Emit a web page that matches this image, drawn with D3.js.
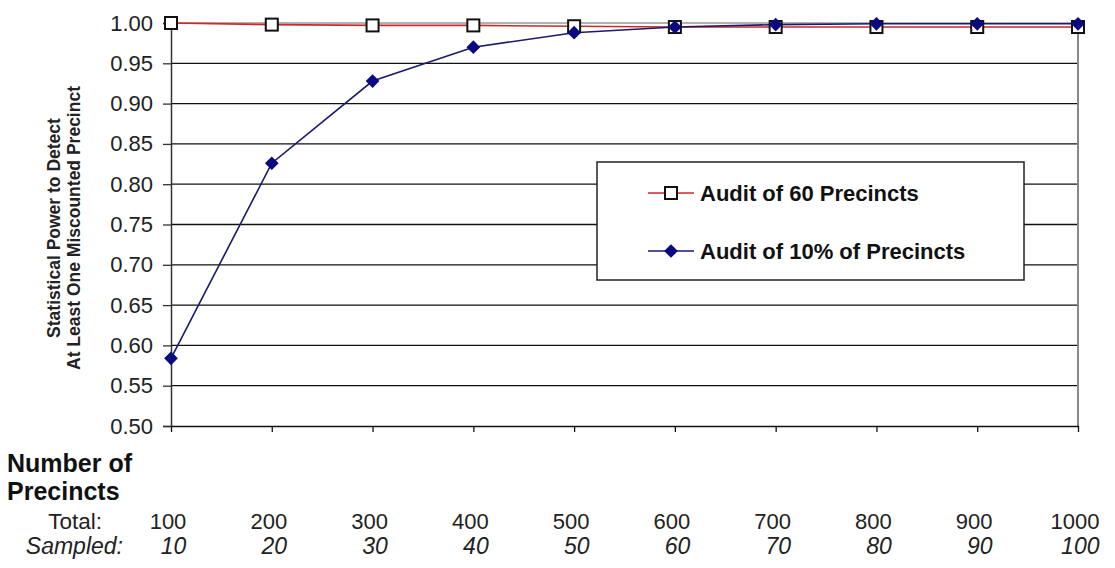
<!DOCTYPE html>
<html>
<head>
<meta charset="utf-8">
<script src="https://cdn.jsdelivr.net/npm/d3@7"></script>
<style>
  html, body { margin: 0; padding: 0; background: #fff; overflow: hidden; }
  svg { display: block; font-family: "Liberation Sans", Arial, sans-serif; }
</style>
</head>
<body>
<svg width="1115" height="568"></svg>
<script>
// values
const totals = [100, 200, 300, 400, 500, 600, 700, 800, 900, 1000];
const sampled = [10, 20, 30, 40, 50, 60, 70, 80, 90, 100];
const audit60 = [1.000, 0.998, 0.997, 0.997, 0.996, 0.995, 0.995, 0.995, 0.995, 0.995];
const audit10pct = [0.584, 0.826, 0.928, 0.970, 0.988, 0.995, 0.998, 0.999, 0.999, 0.999];
const yTicks = [0.50, 0.55, 0.60, 0.65, 0.70, 0.75, 0.80, 0.85, 0.90, 0.95, 1.00];
const seriesNames = ["Audit of 60 Precincts", "Audit of 10% of Precincts"];

const svg = d3.select('svg');
const margin = {top: 23, right: 37, bottom: 142, left: 171};
const width = +svg.attr('width');
const height = +svg.attr('height');
const innerWidth = width - margin.left - margin.right;
const innerHeight = height - margin.top - margin.bottom;

const xScale = d3.scaleLinear().domain([100, 1000]).range([0, innerWidth]);
const yScale = d3.scaleLinear().domain([0.5, 1.0]).range([innerHeight, 0]);

const g = svg.append('g').attr('transform', `translate(${margin.left},${margin.top})`);

// gridlines
g.selectAll('.grid')
  .data(yTicks.slice(1))
  .enter().append('line')
  .attr('x1', 0).attr('x2', innerWidth)
  .attr('y1', d => yScale(d)).attr('y2', d => yScale(d))
  .attr('stroke', d => d === 1 ? '#999' : '#111').attr('stroke-width', 1.3);

// right border of plot area
g.append('line')
  .attr('x1', innerWidth).attr('x2', innerWidth)
  .attr('y1', 0).attr('y2', innerHeight)
  .attr('stroke', '#888').attr('stroke-width', 2);

// y axis
const yAxis = d3.axisLeft(yScale).tickValues(yTicks).tickFormat(d3.format('.2f')).tickSize(8).tickPadding(10);
const yG = g.append('g').call(yAxis);
yG.attr('font-size', 22).attr('font-family', '"Liberation Sans", Arial, sans-serif');
yG.select('.domain').attr('stroke', '#333').attr('stroke-width', 1.5);
yG.selectAll('.tick line').attr('stroke', '#333').attr('stroke-width', 1.3);
yG.selectAll('text').attr('fill', '#222');

// x axis (ticks only, labels drawn below)
const xAxis = d3.axisBottom(xScale).tickValues(totals).tickFormat('').tickSize(6).tickSizeOuter(0);
const xG = g.append('g').attr('transform', `translate(0,${innerHeight})`).call(xAxis);
xG.select('.domain').attr('stroke', '#111').attr('stroke-width', 1.5);
xG.selectAll('.tick line').attr('stroke', '#111').attr('stroke-width', 1.3);

// lines
const line = d3.line().x((d, i) => xScale(totals[i])).y(d => yScale(d));
g.append('path').datum(audit60).attr('d', line)
  .attr('fill', 'none').attr('stroke', '#cc2a2a').attr('stroke-width', 1.6);
g.append('path').datum(audit10pct).attr('d', line)
  .attr('fill', 'none').attr('stroke', '#1a1a6e').attr('stroke-width', 1.6);

// markers
g.selectAll('.sq')
  .data(audit60).enter().append('rect')
  .attr('x', (d, i) => xScale(totals[i]) - 6)
  .attr('y', d => yScale(d) - 6)
  .attr('width', 12).attr('height', 12)
  .attr('fill', '#fff').attr('stroke', '#111').attr('stroke-width', 2);

const diamond = d3.symbol().type(d3.symbolDiamond2).size(120);
g.selectAll('.dia')
  .data(audit10pct).enter().append('path')
  .attr('d', diamond)
  .attr('transform', (d, i) => `translate(${xScale(totals[i])},${yScale(d)})`)
  .attr('fill', '#0a0a80');

// y axis title
const yTitle = svg.append('text')
  .attr('transform', 'translate(60,228) rotate(-90)')
  .attr('text-anchor', 'middle')
  .attr('font-size', 17.5).attr('font-weight', 'bold').attr('fill', '#222');
yTitle.append('tspan').attr('x', 0).attr('dy', 0).text('Statistical Power to Detect');
yTitle.append('tspan').attr('x', 0).attr('dy', 20).text('At Least One Miscounted Precinct');

// legend
const legend = svg.append('g').attr('transform', 'translate(597,162)');
legend.append('rect')
  .attr('width', 427).attr('height', 118)
  .attr('fill', '#fff').attr('stroke', '#222').attr('stroke-width', 1.5);
const legendRows = [
  {name: seriesNames[0], color: '#cc2a2a', y: 31},
  {name: seriesNames[1], color: '#1a1a6e', y: 89}
];
legendRows.forEach((row, i) => {
  legend.append('line').attr('x1', 51).attr('x2', 97).attr('y1', row.y).attr('y2', row.y)
    .attr('stroke', row.color).attr('stroke-width', 1.6);
  if (i === 0) {
    legend.append('rect').attr('x', 68).attr('y', row.y - 6).attr('width', 12).attr('height', 12)
      .attr('fill', '#fff').attr('stroke', '#111').attr('stroke-width', 2);
  } else {
    legend.append('path').attr('d', diamond).attr('transform', `translate(74,${row.y})`)
      .attr('fill', '#0a0a80');
  }
  legend.append('text').attr('x', 103).attr('y', row.y + 8)
    .attr('font-size', 22).attr('font-weight', 'bold').attr('fill', '#111')
    .text(row.name);
});

// bottom labels
svg.append('text').attr('x', 7).attr('y', 472)
  .attr('font-size', 25).attr('font-weight', 'bold').attr('fill', '#111').text('Number of');
svg.append('text').attr('x', 7).attr('y', 500)
  .attr('font-size', 25).attr('font-weight', 'bold').attr('fill', '#111').text('Precincts');
svg.append('text').attr('x', 102).attr('y', 529).attr('text-anchor', 'end')
  .attr('font-size', 22.5).attr('fill', '#222').text('Total:');
svg.append('text').attr('x', 123).attr('y', 554).attr('text-anchor', 'end')
  .attr('font-size', 23).attr('font-style', 'italic').attr('fill', '#222').text('Sampled:');

const totalLabels = svg.selectAll('.tot')
  .data(totals).enter().append('text')
  .attr('x', d => margin.left + xScale(d) - 3)
  .attr('y', 529).attr('text-anchor', 'middle')
  .attr('font-size', 22).attr('fill', '#222')
  .text(d => d);

svg.selectAll('.smp')
  .data(sampled).enter().append('text')
  .attr('x', (d, i) => {
    const w = totalLabels.nodes()[i].getComputedTextLength();
    return margin.left + xScale(totals[i]) - 3 + w / 2;
  })
  .attr('y', 554).attr('text-anchor', 'end')
  .attr('font-size', 23).attr('font-style', 'italic').attr('fill', '#222')
  .text(d => d);
</script>
</body>
</html>
